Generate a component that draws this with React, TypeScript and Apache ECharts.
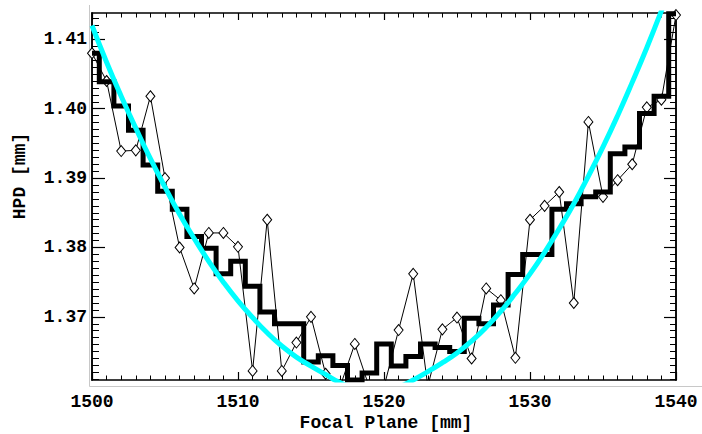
import React, { useEffect, useRef } from "react";
import * as echarts from "echarts";

// Focal plane positions [mm]
const focalPlane = [
  1500, 1501, 1502, 1503, 1504, 1505, 1506, 1507, 1508, 1509, 1510,
  1511, 1512, 1513, 1514, 1515, 1516, 1517, 1518, 1519, 1520,
  1521, 1522, 1523, 1524, 1525, 1526, 1527, 1528, 1529, 1530,
  1531, 1532, 1533, 1534, 1535, 1536, 1537, 1538, 1539, 1540,
];

// Measured HPD (thin line with diamonds)
const hpdRaw = [
  1.408, 1.404, 1.3939, 1.394, 1.4018, 1.39, 1.38, 1.3741, 1.3821, 1.3821, 1.3801,
  1.3622, 1.384, 1.3622, 1.3663, 1.37, 1.3618, 1.36, 1.3661, 1.3598, 1.3599,
  1.3681, 1.3762, 1.36, 1.3682, 1.3699, 1.364, 1.3741, 1.3724, 1.3641, 1.384,
  1.386, 1.388, 1.372, 1.3981, 1.3873, 1.3897, 1.392, 1.4002, 1.4013, 1.4135,
];

// Smoothed HPD (thick histogram-style step line)
const hpdSmooth = [
  1.408, 1.4039, 1.4004, 1.3969, 1.3919, 1.3881, 1.3855, 1.3816, 1.3799, 1.3762, 1.378,
  1.3744, 1.3707, 1.369, 1.369, 1.3635, 1.3644, 1.363, 1.3609, 1.3619, 1.3661,
  1.3629, 1.3643, 1.3661, 1.3656, 1.365, 1.3698, 1.369, 1.3717, 1.3761, 1.379,
  1.379, 1.3855, 1.3863, 1.3873, 1.388, 1.3935, 1.3945, 1.3993, 1.4018, 1.4137,
];

// Parabolic fit (cyan) (dips below the plot near the minimum)
const hpdFit = [
  1.412, 1.4067, 1.4018, 1.3972, 1.3928, 1.3887, 1.3848, 1.3813, 1.378, 1.375, 1.3723,
  1.3699, 1.3677, 1.3658, 1.3642, 1.3629, 1.3617, 1.3605, 1.3597, 1.3594, 1.3595,
  1.3599, 1.3609, 1.3621, 1.3634, 1.3648, 1.3665, 1.3685, 1.3708, 1.3734, 1.3762,
  1.3793, 1.3827, 1.3863, 1.3903, 1.3945, 1.399, 1.4038, 1.4088, 1.4141, 1.4197,
];

const yMajorTicks = [1.37, 1.38, 1.39, 1.4, 1.41];
const xMajorTicks = [1500, 1510, 1520, 1530, 1540];

const Y_MIN = 1.3609;
const Y_MAX = 1.4138;

const yMinorTicks: number[] = [];
for (let i = 1361; i <= 1413; i++) {
  if (i % 10 !== 0) yMinorTicks.push(i / 1000);
}

const FONT = "'Liberation Mono', 'Courier New', monospace";

export default function App() {
  const ref = useRef<HTMLDivElement>(null);

  useEffect(() => {
    if (!ref.current) return;
    const chart = echarts.init(ref.current, undefined, { renderer: "svg" });

    const pair = (arr: number[]) => focalPlane.map((x, i) => [x, arr[i]]);
    const frame = { show: true, lineStyle: { color: "#000", width: 1.5 } };

    const xBase = {
      type: "value" as const,
      min: 1500,
      max: 1540,
      interval: 10,
      axisLine: frame,
      splitLine: { show: false },
      minorTick: { show: true, splitNumber: 10, length: 4.5, lineStyle: { color: "#000", width: 1 } },
      minorSplitLine: { show: false },
    };

    const yBase = {
      type: "value" as const,
      min: Y_MIN,
      max: Y_MAX,
      axisLine: frame,
      splitLine: { show: false },
      axisLabel: { show: false },
    };

    chart.setOption({
      animation: false,
      backgroundColor: "#fff",
      grid: { left: 92, top: 13, right: 26, bottom: 54, containLabel: false },
      xAxis: [
        {
          ...xBase,
          position: "bottom",
          axisTick: { show: true, inside: true, length: 8, lineStyle: { color: "#000", width: 1.2 } },
          axisLabel: {
            show: true,
            margin: 13,
            fontSize: 18,
            fontWeight: "bold",
            fontFamily: FONT,
            color: "#000",
            customValues: xMajorTicks,
            formatter: (v: number) => String(Math.round(v)),
          },
        },
        {
          ...xBase,
          position: "top",
          axisTick: { show: true, inside: true, length: 7, lineStyle: { color: "#000", width: 1.2 } },
          axisLabel: { show: false },
        },
      ],
      yAxis: [
        {
          ...yBase,
          position: "left",
          axisTick: {
            show: true,
            inside: true,
            length: 13,
            customValues: yMajorTicks,
            lineStyle: { color: "#000", width: 1.2 },
          },
          axisLabel: {
            show: true,
            margin: 5,
            fontSize: 18,
            fontWeight: "bold",
            fontFamily: FONT,
            color: "#000",
            customValues: yMajorTicks,
            formatter: (v: number) => v.toFixed(2),
          },
        },
        {
          ...yBase,
          position: "left",
          axisTick: {
            show: true,
            inside: true,
            length: 7,
            customValues: yMinorTicks,
            lineStyle: { color: "#000", width: 1 },
          },
        },
        {
          ...yBase,
          position: "right",
          axisTick: {
            show: true,
            inside: true,
            length: 12,
            customValues: yMajorTicks,
            lineStyle: { color: "#000", width: 1.2 },
          },
        },
        {
          ...yBase,
          position: "right",
          axisTick: {
            show: true,
            inside: true,
            length: 6,
            customValues: yMinorTicks,
            lineStyle: { color: "#000", width: 1 },
          },
        },
      ],
      series: [
        {
          name: "HPD",
          type: "line",
          xAxisIndex: 0,
          yAxisIndex: 0,
          data: pair(hpdRaw),
          clip: true,
          z: 2,
          symbol: "diamond",
          symbolSize: [9, 11],
          showAllSymbol: true,
          itemStyle: { color: "#fff", borderColor: "#000", borderWidth: 1 },
          lineStyle: { color: "#000", width: 1 },
        },
        {
          name: "HPD smoothed",
          type: "line",
          xAxisIndex: 0,
          yAxisIndex: 0,
          data: pair(hpdSmooth),
          step: "middle",
          clip: true,
          z: 3,
          symbol: "none",
          lineStyle: { color: "#000", width: 5, join: "miter" },
        },
        {
          name: "Fit",
          type: "line",
          xAxisIndex: 0,
          yAxisIndex: 0,
          data: pair(hpdFit),
          smooth: true,
          clip: true,
          z: 4,
          symbol: "none",
          lineStyle: { color: "#00ffff", width: 5 },
        },
      ],
      graphic: [
        {
          type: "line",
          silent: true,
          shape: { x1: 89.5, y1: 5, x2: 89.5, y2: 386.5 },
          style: { stroke: "#c8c8c8", lineWidth: 1 },
        },
        {
          type: "line",
          silent: true,
          shape: { x1: 89.5, y1: 386.5, x2: 702, y2: 386.5 },
          style: { stroke: "#c8c8c8", lineWidth: 1 },
        },
        {
          type: "text",
          x: 386,
          y: 423,
          style: {
            text: "Focal Plane [mm]",
            fontSize: 18,
            fontWeight: "bold",
            fontFamily: FONT,
            fill: "#000",
            align: "center",
            verticalAlign: "middle",
          },
        },
        {
          type: "text",
          x: 20,
          y: 176,
          rotation: Math.PI / 2,
          style: {
            text: "HPD [mm]",
            fontSize: 18,
            fontWeight: "bold",
            fontFamily: FONT,
            fill: "#000",
            align: "center",
            verticalAlign: "middle",
          },
        },
      ],
    });

    return () => chart.dispose();
  }, []);

  return (
    <div
      ref={ref}
      style={{ position: "absolute", left: 0, top: 0, width: 702, height: 434, background: "#fff" }}
    />
  );
}
